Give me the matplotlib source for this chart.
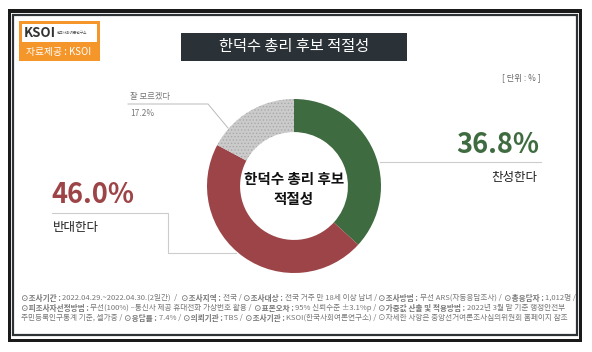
import numpy as np
import matplotlib
matplotlib.use('Agg')
import matplotlib.pyplot as plt
from matplotlib.patches import Rectangle

plt.rcParams['font.family'] = ['Noto Sans CJK KR', 'DejaVu Sans']
plt.rcParams['hatch.linewidth'] = 0.6

W, H = 592, 352

title = '한덕수 총리 후보 적절성'
center_title = '한덕수 총리 후보\n적절성'
labels = ['찬성한다', '반대한다', '잘 모르겠다']
values = [36.8, 46.0, 17.2]
colors = ['#3e6b3f', '#9c4447', '#cbcbcb']
unit_text = '[ 단위 : % ]'

footer_lines = [
    [('⊙조사기간 : ', True), ('2022.04.29.~2022.04.30.(2일간)  /  ', False),
     ('⊙조사지역 : ', True), ('전국 / ', False),
     ('⊙조사대상 : ', True), ('전국 거주 만 18세 이상 남녀 / ', False),
     ('⊙조사방법 : ', True), ('무선 ARS(자동응답조사) / ', False),
     ('⊙총응답자 : ', True), ('1,012명 /', False)],
    [('⊙피조사자선정방법 : ', True), ('무선(100%) –통신사 제공 휴대전화 가상번호 활용 / ', False),
     ('⊙표본오차 : ', True), ('95% 신뢰수준 ±3.1%p / ', False),
     ('⊙가중값 산출 및 적용방법 : ', True), ('2022년 3월 말 기준 행정안전부', False)],
    [('주민등록인구통계 기준, 셀가중 / ', False),
     ('⊙응답률 : ', True), ('7.4% / ', False),
     ('⊙의뢰기관 : ', True), ('TBS / ', False),
     ('⊙조사기관 : ', True), ('KSOI(한국사회여론연구소) / ', False),
     ('⊙자세한 사항은 중앙선거여론조사심의위원회 홈페이지 참조', False)],
]


def Y(y):
    return H - y


fig = plt.figure(figsize=(W / 100, H / 100), dpi=100)
fig.patch.set_facecolor('white')
ax = fig.add_axes([0, 0, 1, 1])

# frame
ax.add_patch(Rectangle((8, Y(342)), 574, 333, facecolor='#1a1a1a', edgecolor='none'))
ax.add_patch(Rectangle((11, Y(339)), 568, 326, facecolor='white', edgecolor='none'))
ax.add_patch(Rectangle((13, Y(335)), 564, 320, facecolor='white', edgecolor='#2e3336', linewidth=1.6))

# logo
ax.add_patch(Rectangle((19, Y(61)), 81, 40, facecolor='#f5962a', edgecolor='none'))
ax.add_patch(Rectangle((22, Y(42)), 75, 18, facecolor='white', edgecolor='none'))
ax.text(24, Y(33), 'KSOI', fontsize=9.5, fontweight='bold', color='#333333', va='center', ha='left')
ax.text(57, Y(33), '한국사회여론연구소', fontsize=2.7, color='#555555', va='center', ha='left')
ax.text(59, Y(52), '자료제공 : KSOI', fontsize=7, color='white', va='center', ha='center')

# title box
ax.add_patch(Rectangle((181, Y(61)), 226, 28, facecolor='#2b3237', edgecolor='none'))
ax.text(294, Y(47), title, fontsize=11, color='white', va='center', ha='center')
ax.text(541, Y(78), unit_text, fontsize=6, color='#666666', va='center', ha='right')

# donut
cx, cy, r = 294, 186, 87
wedges, _ = ax.pie(values, colors=colors, startangle=90, counterclock=False,
                   center=(cx, Y(cy)), radius=r, frame=True,
                   wedgeprops=dict(width=r * 0.38, linewidth=0))
wedges[2].set_hatch('.....')
wedges[2].set_edgecolor('#a9a9a9')
wedges[2].set_linewidth(0)
ax.text(cx, Y(189), center_title, fontsize=10.5, fontweight='bold', color='#111111',
        va='center', ha='center', linespacing=1.3)

# leader lines
ax.plot([380, 541], [Y(162), Y(162)], color='#cccccc', lw=0.8)
ax.plot([236, 168, 168, 52], [Y(253), Y(253), Y(213), Y(213)], color='#cccccc', lw=0.8)
ax.plot([128, 208, 228], [Y(104), Y(104), Y(128)], color='#bbbbbb', lw=0.7)

# labels
ax.text(539, Y(145), f'{values[0]:.1f}%', fontsize=19.5, fontweight='bold', color=colors[0],
        va='center', ha='right')
ax.text(537, Y(177), labels[0], fontsize=9, color='#222222', va='center', ha='right')
ax.text(51, Y(195), f'{values[1]:.1f}%', fontsize=19.5, fontweight='bold', color=colors[1],
        va='center', ha='left')
ax.text(53, Y(227), labels[1], fontsize=9, color='#222222', va='center', ha='left')
ax.text(130, Y(97), labels[2], fontsize=6, color='#777777', va='center', ha='left')
ax.text(130, Y(113), f'{values[2]:.1f}%', fontsize=6, color='#777777', va='center', ha='left')

ax.set_xlim(0, W)
ax.set_ylim(0, H)
ax.axis('off')

# footer with mixed bold segments
fig.canvas.draw()
renderer = fig.canvas.get_renderer()
for i, segs in enumerate(footer_lines):
    x = 21
    y = Y(298 + i * 10)
    for s, bold in segs:
        t = ax.text(x, y, s, fontsize=5.5, color='#777777',
                    fontweight='bold' if bold else 'normal', va='center', ha='left')
        bb = t.get_window_extent(renderer=renderer)
        x += bb.width

fig.savefig('out.png', dpi=100, facecolor='white')
